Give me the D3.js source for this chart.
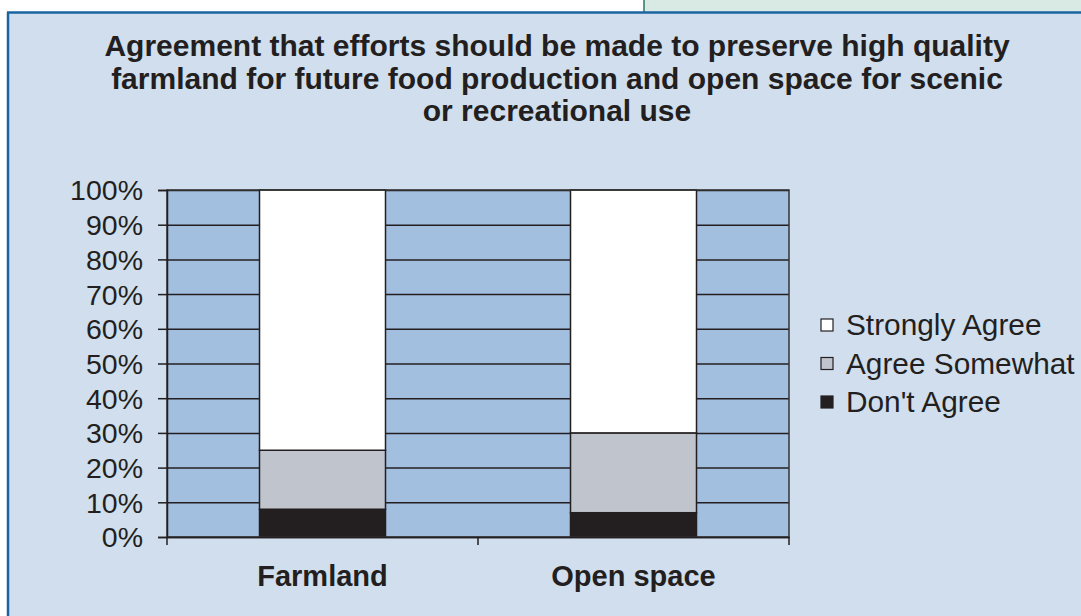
<!DOCTYPE html>
<html><head><meta charset="utf-8">
<script src="https://cdn.jsdelivr.net/npm/d3@7"></script>
<style>body{margin:0;background:#fff;}svg{display:block;}</style>
</head><body>
<script>
const categories = ["Farmland", "Open space"];
const seriesNames = ["Don't Agree", "Agree Somewhat", "Strongly Agree"];
const dontAgree = [8, 7];
const agreeSomewhat = [17, 23];
const stronglyAgree = [75, 70];
const yTicks = [0,10,20,30,40,50,60,70,80,90,100];
const titleLines = ["Agreement that efforts should be made to preserve high quality",
  "farmland for future food production and open space for scenic",
  "or recreational use"];

const W = 1081, H = 616;
const svg = d3.select("body").append("svg").attr("width", W).attr("height", H);
const font = "'Liberation Sans', Arial, sans-serif";

// frame
svg.append("rect").attr("x",0).attr("y",0).attr("width",W).attr("height",H).attr("fill","#fff");
svg.append("rect").attr("x",644).attr("y",0).attr("width",W-644).attr("height",12).attr("fill","#d9eae4");
svg.append("line").attr("x1",644).attr("x2",644).attr("y1",0).attr("y2",12).attr("stroke","#2a7a5a").attr("stroke-width",1.5);
svg.append("rect").attr("x",8).attr("y",12).attr("width",W-8).attr("height",H-12).attr("fill","#d0deed");
svg.append("line").attr("x1",7).attr("x2",W).attr("y1",12.5).attr("y2",12.5).attr("stroke","#1a64a0").attr("stroke-width",2.5);
svg.append("line").attr("x1",8).attr("x2",8).attr("y1",12).attr("y2",H).attr("stroke","#1a64a0").attr("stroke-width",2.5);

// title
svg.append("g").selectAll("text").data(titleLines).join("text")
  .attr("x",557).attr("y",(d,i)=>56+i*32.5).attr("text-anchor","middle")
  .attr("font-family",font).attr("font-weight","bold").attr("font-size",30).attr("fill","#231f20")
  .text(d=>d);

const x0 = 167, x1 = 789, yTop = 190, yBot = 537;
const x = d3.scaleBand().domain(categories).range([x0,x1]).paddingInner(0).paddingOuter(0);
const y = d3.scaleLinear().domain([0,100]).range([yBot,yTop]);
const barW = 126;

svg.append("rect").attr("x",x0).attr("y",yTop).attr("width",x1-x0).attr("height",yBot-yTop).attr("fill","#a3bfdf");

// gridlines
svg.append("g").selectAll("line").data(yTicks).join("line")
  .attr("x1",x0).attr("x2",x1).attr("y1",d=>y(d)+0.5).attr("y2",d=>y(d)+0.5)
  .attr("stroke","#231f20").attr("stroke-width",1.5);

// stacked bars
const rows = categories.map((c,i)=>({cat:c, "Don't Agree":dontAgree[i], "Agree Somewhat":agreeSomewhat[i], "Strongly Agree":stronglyAgree[i]}));
const stack = d3.stack().keys(seriesNames)(rows);
const colors = {"Don't Agree":"#231f20","Agree Somewhat":"#c0c4cc","Strongly Agree":"#ffffff"};
svg.append("g").selectAll("g").data(stack).join("g").attr("fill",d=>colors[d.key])
  .selectAll("rect").data(d=>d).join("rect")
  .attr("x",d=>x(d.data.cat)+x.bandwidth()/2-barW/2)
  .attr("y",d=>y(d[1])).attr("width",barW).attr("height",d=>y(d[0])-y(d[1]))
  .attr("stroke","#231f20").attr("stroke-width",1.5);

// plot border
svg.append("rect").attr("x",x0).attr("y",yTop).attr("width",x1-x0).attr("height",yBot-yTop)
  .attr("fill","none").attr("stroke","#333").attr("stroke-width",1.5);

// y axis
const yAxis = svg.append("g").attr("transform",`translate(${x0},0)`)
  .call(d3.axisLeft(y).tickValues(yTicks).tickFormat(d=>d+"%").tickSize(9).tickPadding(15));
yAxis.select(".domain").attr("stroke","#231f20").attr("stroke-width",1.5);
yAxis.selectAll(".tick line").attr("stroke","#231f20").attr("stroke-width",1.5);
yAxis.selectAll("text").attr("font-family",font).attr("font-size",28.5).attr("fill","#231f20").attr("dy","0.35em");

// x axis
const xAxis = svg.append("g").attr("transform",`translate(0,${yBot})`)
  .call(d3.axisBottom(x).tickSize(0).tickPadding(0));
xAxis.select(".domain").attr("stroke","#231f20").attr("stroke-width",1.5);
xAxis.selectAll("text").attr("font-family",font).attr("font-size",29).attr("font-weight","bold").attr("fill","#231f20")
  .attr("dy",null).attr("y",49);
svg.append("g").selectAll("line").data([x0, x0+x.bandwidth(), x1]).join("line")
  .attr("x1",d=>d).attr("x2",d=>d).attr("y1",yBot).attr("y2",yBot+8)
  .attr("stroke","#231f20").attr("stroke-width",1.5);

// legend
const legendItems = ["Strongly Agree","Agree Somewhat","Don't Agree"];
const lg = svg.append("g").selectAll("g").data(legendItems).join("g")
  .attr("transform",(d,i)=>`translate(821,${319+i*38.5})`);
lg.append("rect").attr("width",12).attr("height",12).attr("fill",d=>colors[d]).attr("stroke","#231f20").attr("stroke-width",1.2);
lg.append("text").attr("x",25).attr("y",16).attr("font-family",font).attr("font-size",29.8).attr("fill","#231f20").text(d=>d);
</script>
</body></html>
